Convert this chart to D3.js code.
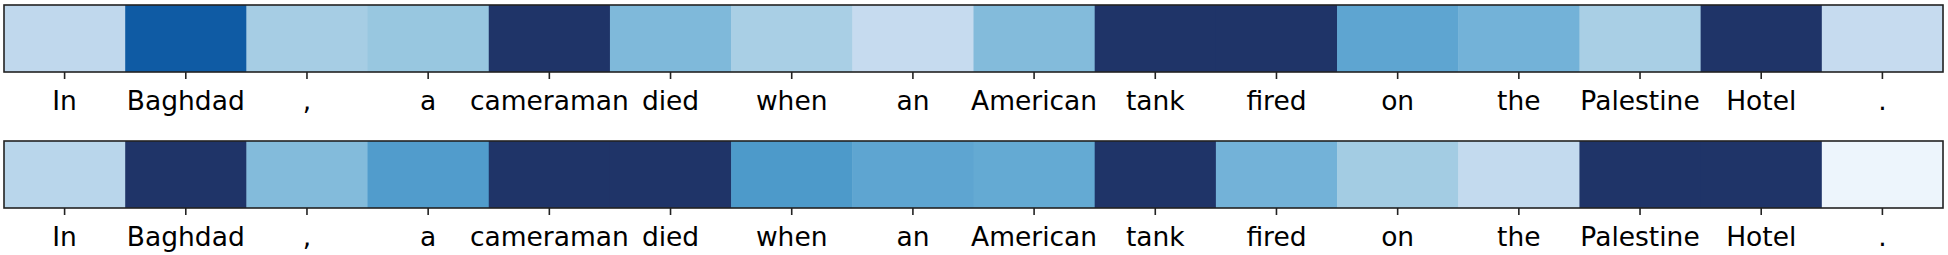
<!DOCTYPE html>
<html>
<head>
<meta charset="utf-8">
<script src="https://cdn.jsdelivr.net/npm/d3@7/dist/d3.min.js"></script>
<style>
  body { margin: 0; background: #fff; }
  svg text { font-family: "DejaVu Sans", sans-serif; }
</style>
</head>
<body>
<div id="chart"></div>
<script>
const tokens = ['In', 'Baghdad', ',', 'a', 'cameraman', 'died', 'when', 'an',
                'American', 'tank', 'fired', 'on', 'the', 'Palestine', 'Hotel', '.'];
const topWeights = [0.27, 0.85, 0.35, 0.39, 1.0, 0.45, 0.34, 0.25,
                    0.44, 1.0, 1.0, 0.54, 0.48, 0.34, 1.0, 0.25];
const bottomWeights = [0.29, 1.0, 0.44, 0.58, 1.0, 1.0, 0.59, 0.54,
                       0.52, 1.0, 0.48, 0.36, 0.26, 1.0, 1.0, 0.05];
const blues = ['#f7fbff', '#deebf7', '#c6dbef', '#9ecae1', '#6baed6',
               '#4292c6', '#2171b5', '#0b55a0', '#1f3468'];

const w = 1948;
const h = 255;
const left = 4;
const right = 1943;
const cellH = 67;
const rows = [
  { weights: topWeights, y: 5 },
  { weights: bottomWeights, y: 141 }
];

const xScale = d3.scaleBand()
                 .domain(d3.range(tokens.length))
                 .range([left, right]);

const color = d3.scaleLinear()
                .domain(d3.range(blues.length).map(i => i / (blues.length - 1)))
                .range(blues)
                .clamp(true);

const svg = d3.select('#chart')
              .append('svg')
              .attr('width', w)
              .attr('height', h);

rows.forEach(row => {
  const g = svg.append('g')
               .attr('transform', `translate(0, ${row.y})`);

  g.selectAll('rect.cell')
   .data(row.weights)
   .enter()
   .append('rect')
   .attr('class', 'cell')
   .attr('x', (d, i) => xScale(i))
   .attr('y', 0)
   .attr('width', xScale.bandwidth() + 0.5)
   .attr('height', cellH)
   .attr('fill', d => color(d));

  g.append('rect')
   .attr('x', left)
   .attr('y', 0)
   .attr('width', right - left)
   .attr('height', cellH)
   .attr('fill', 'none')
   .attr('stroke', '#222')
   .attr('stroke-width', 1.6);

  const xAxis = d3.axisBottom(xScale)
                  .tickSize(7)
                  .tickSizeOuter(0)
                  .tickFormat(i => tokens[i]);

  const ax = g.append('g')
              .attr('transform', `translate(0, ${cellH})`)
              .call(xAxis);

  ax.select('.domain').remove();
  ax.selectAll('line')
    .attr('stroke', '#222')
    .attr('stroke-width', 1.6);
  ax.selectAll('text')
    .attr('y', 38)
    .attr('dy', 0)
    .attr('fill', '#000')
    .style('font-size', '26.5px')
    .style('font-family', '"DejaVu Sans", sans-serif');
});
</script>
</body>
</html>
